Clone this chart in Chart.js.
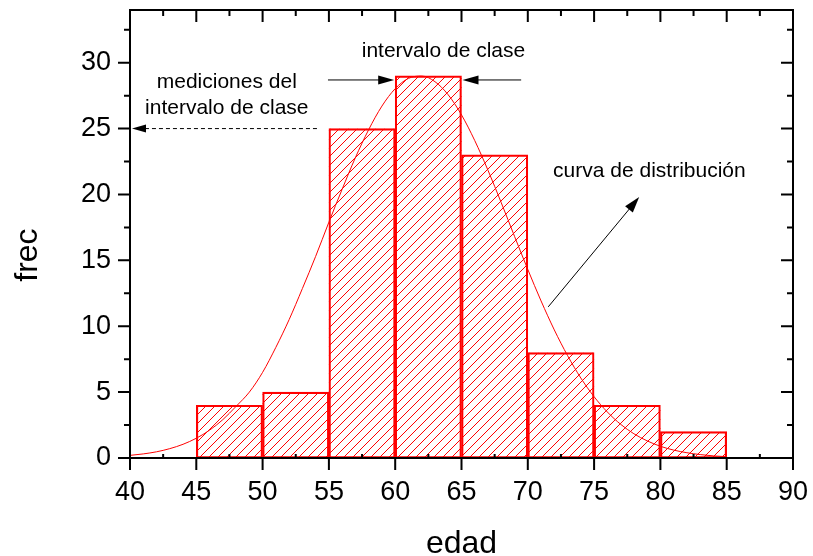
<!DOCTYPE html>
<html>
<head>
<meta charset="utf-8">
<script src="https://cdn.jsdelivr.net/npm/chart.js@4.4.0/dist/chart.umd.min.js"></script>
<style>
html,body{margin:0;padding:0;background:#fff;}
#wrap{width:813px;height:556px;position:relative;}
</style>
</head>
<body>
<div id="wrap"><canvas id="c"></canvas></div>
<script>
// ---- data ----
const binLow = [45, 50, 55, 60, 65, 70, 75, 80];
const binHigh = [50, 55, 60, 65, 70, 75, 80, 85];
const frequencies = [4, 5, 25, 29, 23, 8, 4, 2];

const curveX = [40,41,42,43,44,45,46,47,48,49,50,51,52,53,54,55,56,57,58,59,60,61,62,63,64,65,66,67,68,69,70,71,72,73,74,75,76,77,78,79,80,81,82,83,84,85];
const curveY = [0.2,0.31,0.47,0.71,1.04,1.5,2.11,2.91,3.92,5.0,6.5,8.4,10.5,12.86,15.3,17.9,20.4,22.8,24.92,26.71,28.03,28.81,28.99,28.56,27.56,26.04,24.09,21.83,19.37,16.82,14.31,11.92,9.72,7.77,6.07,4.65,3.49,2.56,1.84,1.3,0.89,0.6,0.4,0.26,0.16,0.1];

const xTickValues = [40, 45, 50, 55, 60, 65, 70, 75, 80, 85, 90];
const yTickValues = [0, 5, 10, 15, 20, 25, 30];
const xTitle = 'edad';
const yTitle = 'frec';
const labelInterval = 'intervalo de clase';
const labelMeasure = ['mediciones del', 'intervalo de clase'];
const labelCurve = 'curva de distribución';

const FONT = '"Liberation Sans", Arial, sans-serif';
Chart.defaults.font.family = FONT;

const barData = binLow.map((lo, i) => ({ x: (lo + binHigh[i]) / 2, y: frequencies[i] }));
const curveData = curveX.map((x, i) => ({ x: x, y: curveY[i] }));

function arrow(ctx, x1, y1, x2, y2, len, half, dash) {
  const a = Math.atan2(y2 - y1, x2 - x1);
  const c = Math.cos(a), s = Math.sin(a);
  ctx.beginPath();
  ctx.setLineDash(dash || []);
  ctx.moveTo(x1, y1);
  ctx.lineTo(x2 - c * len * 0.8, y2 - s * len * 0.8);
  ctx.stroke();
  ctx.setLineDash([]);
  ctx.beginPath();
  ctx.moveTo(x2, y2);
  ctx.lineTo(x2 - len * c + half * s, y2 - len * s - half * c);
  ctx.lineTo(x2 - len * c - half * s, y2 - len * s + half * c);
  ctx.closePath();
  ctx.fill();
}

function zeroPad(axis) {
  axis.paddingLeft = 0; axis.paddingRight = 0;
  axis.paddingTop = 0; axis.paddingBottom = 0;
}

// hatch drawn inside each bar element (geometry from the bar elements)
const hatchPlugin = {
  id: 'hatch',
  beforeDatasetDraw(chart, args) {
    const meta = args.meta;
    if (meta.type !== 'bar') return;
    const ctx = chart.ctx;
    const step = 9;
    ctx.save();
    ctx.strokeStyle = '#ff0000';
    ctx.lineWidth = 1;
    meta.data.forEach(bar => {
      const p = bar.getProps(['x', 'y', 'base', 'width'], true);
      const left = p.x - p.width / 2, right = p.x + p.width / 2;
      const top = Math.min(p.y, p.base), bottom = Math.max(p.y, p.base);
      ctx.save();
      ctx.beginPath();
      ctx.rect(left, top, right - left, bottom - top);
      ctx.clip();
      ctx.beginPath();
      const c0 = Math.floor((left + top) / step) * step;
      for (let c = c0; c <= right + bottom; c += step) {
        ctx.moveTo(c - bottom, bottom);
        ctx.lineTo(c - top, top);
      }
      ctx.stroke();
      ctx.restore();
    });
    ctx.restore();
  }
};

const framePlugin = {
  id: 'frame',
  afterDraw(chart) {
    const ctx = chart.ctx;
    const ca = chart.chartArea;
    const xs = chart.scales.x, ys = chart.scales.y;
    ctx.save();
    // frame
    ctx.strokeStyle = '#000';
    ctx.lineWidth = 2;
    ctx.strokeRect(ca.left, ca.top, ca.right - ca.left, ca.bottom - ca.top);
    // ticks
    ctx.beginPath();
    xTickValues.forEach((v, i) => {
      const p = xs.getPixelForValue(v);
      ctx.moveTo(p, ca.bottom); ctx.lineTo(p, ca.bottom + 12);
      ctx.moveTo(p, ca.top); ctx.lineTo(p, ca.top + 12);
      if (i < xTickValues.length - 1) {
        const m = xs.getPixelForValue((v + xTickValues[i + 1]) / 2);
        ctx.moveTo(m, ca.top); ctx.lineTo(m, ca.top + 6);
        ctx.moveTo(m, ca.bottom); ctx.lineTo(m, ca.bottom - 4);
      }
    });
    yTickValues.forEach((v, i) => {
      const p = ys.getPixelForValue(v);
      ctx.moveTo(ca.left - 12, p); ctx.lineTo(ca.left, p);
      ctx.moveTo(ca.right - 12, p); ctx.lineTo(ca.right, p);
      const step = i < yTickValues.length - 1 ? yTickValues[i + 1] - v : v - yTickValues[i - 1];
      const m = ys.getPixelForValue(v + step / 2);
      if (m >= ca.top) {
        ctx.moveTo(ca.left - 6, m); ctx.lineTo(ca.left, m);
        ctx.moveTo(ca.right - 6, m); ctx.lineTo(ca.right, m);
      }
    });
    ctx.stroke();

    // axis titles
    ctx.fillStyle = '#000';
    ctx.font = '32px ' + FONT;
    ctx.textAlign = 'center';
    ctx.textBaseline = 'alphabetic';
    ctx.fillText(xTitle, (ca.left + ca.right) / 2, ca.bottom + 95);
    ctx.save();
    ctx.translate(ca.left - 93, ys.getPixelForValue(15.4));
    ctx.rotate(-Math.PI / 2);
    ctx.fillText(yTitle, 0, 0);
    ctx.restore();

    // annotations
    ctx.font = '21px ' + FONT;
    ctx.fillText(labelInterval, xs.getPixelForValue(63.64), ys.getPixelForValue(30.47));
    ctx.fillText(labelMeasure[0], xs.getPixelForValue(47.3), ys.getPixelForValue(28.08));
    ctx.fillText(labelMeasure[1], xs.getPixelForValue(47.3), ys.getPixelForValue(26.11));
    ctx.fillText(labelCurve, xs.getPixelForValue(79.17), ys.getPixelForValue(21.29));

    ctx.strokeStyle = '#000';
    ctx.lineWidth = 1;
    const ya = ys.getPixelForValue(28.69);
    arrow(ctx, xs.getPixelForValue(54.93), ya, xs.getPixelForValue(60) - 1, ya, 16, 4.5);
    arrow(ctx, xs.getPixelForValue(69.5), ya, xs.getPixelForValue(65) + 1, ya, 16, 4.5);
    const yd = ys.getPixelForValue(25);
    arrow(ctx, xs.getPixelForValue(54.1), yd, xs.getPixelForValue(40) + 2, yd, 14, 4, [4, 3]);
    arrow(ctx, xs.getPixelForValue(71.54), ys.getPixelForValue(11.47), xs.getPixelForValue(78.4), ys.getPixelForValue(19.8), 16, 5);
    ctx.restore();
  }
};

new Chart(document.getElementById('c'), {
  type: 'bar',
  data: {
    datasets: [
      {
        type: 'line',
        data: curveData,
        borderColor: '#ff0000',
        borderWidth: 1,
        pointRadius: 0,
        fill: false,
        cubicInterpolationMode: 'monotone',
        order: 0
      },
      {
        type: 'bar',
        data: barData,
        backgroundColor: 'rgba(255,0,0,0)',
        borderColor: '#ff0000',
        borderWidth: 1.5,
        borderSkipped: false,
        barPercentage: 1,
        categoryPercentage: 1,
        order: 1
      }
    ]
  },
  options: {
    responsive: true,
    maintainAspectRatio: false,
    animation: false,
    devicePixelRatio: 1,
    layout: { padding: { left: 0, right: 20, top: 10, bottom: 0 } },
    plugins: { legend: { display: false }, tooltip: { enabled: false } },
    scales: {
      x: {
        type: 'linear',
        offset: false,
        min: 40,
        max: 90,
        grid: { display: false, drawTicks: false, tickLength: 0 },
        border: { display: false },
        ticks: { color: '#000', font: { size: 27 }, padding: 18, maxRotation: 0, autoSkip: false },
        afterBuildTicks: (axis) => { axis.ticks = xTickValues.map(v => ({ value: v })); },
        afterFit: (axis) => { axis.height = 98; zeroPad(axis); }
      },
      y: {
        type: 'linear',
        min: 0,
        max: 34,
        grid: { display: false, drawTicks: false, tickLength: 0 },
        border: { display: false },
        ticks: { color: '#000', font: { size: 27 }, padding: 19, autoSkip: false },
        afterBuildTicks: (axis) => { axis.ticks = yTickValues.map(v => ({ value: v })); },
        afterFit: (axis) => { axis.width = 130; zeroPad(axis); }
      }
    }
  },
  plugins: [hatchPlugin, framePlugin]
});
</script>
</body>
</html>
